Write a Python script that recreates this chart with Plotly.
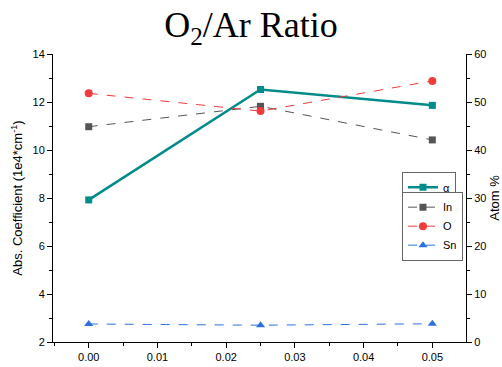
import plotly.graph_objects as go

ratio = [0.0, 0.025, 0.05]
alpha = [7.92, 12.52, 11.86]
in_pct = [44.85, 49.1, 42.1]
o_pct = [51.8, 48.1, 54.4]
sn_pct = [3.75, 3.5, 3.8]

fig = go.Figure()
fig.add_trace(go.Scatter(x=ratio, y=alpha, name="α", mode="lines+markers",
                         line=dict(color="#008B8B", width=2.5),
                         marker=dict(symbol="square", size=7, color="#008B8B"),
                         legend="legend", showlegend=True))
fig.add_trace(go.Scatter(x=ratio, y=in_pct, name="In", mode="lines+markers", yaxis="y2",
                         line=dict(color="#555555", width=1, dash="dash"),
                         marker=dict(symbol="square", size=7, color="#555555"),
                         legend="legend2", showlegend=True))
fig.add_trace(go.Scatter(x=ratio, y=o_pct, name="O", mode="lines+markers", yaxis="y2",
                         line=dict(color="#F03C3C", width=1, dash="dash"),
                         marker=dict(symbol="circle", size=8, color="#F03C3C"),
                         legend="legend2", showlegend=True))
fig.add_trace(go.Scatter(x=ratio, y=sn_pct, name="Sn", mode="lines+markers", yaxis="y2",
                         line=dict(color="#2A72E0", width=1, dash="dash"),
                         marker=dict(symbol="triangle-up", size=8, color="#2A72E0"),
                         legend="legend2", showlegend=True))

axfont = dict(family="Liberation Sans, Arial", size=11, color="black")
legfont = dict(family="Liberation Sans, Arial", size=11, color="black")
fig.update_layout(
    width=502, height=367,
    showlegend=True,
    margin=dict(l=53, r=36, t=54, b=25, autoexpand=False),
    paper_bgcolor="white", plot_bgcolor="white",
    title=dict(text="O<sub>2</sub>/Ar Ratio", x=0.5, xanchor="center", y=0.968, yanchor="top",
               font=dict(family="Liberation Serif, Times New Roman", size=36, color="black")),
    xaxis=dict(range=[-0.0052, 0.0549], tickvals=[0, 0.01, 0.02, 0.03, 0.04, 0.05],
               ticktext=["0.00", "0.01", "0.02", "0.03", "0.04", "0.05"], automargin=False,
               showline=True, linecolor="black", linewidth=1, ticks="outside", ticklen=5,
               tickcolor="black", showgrid=False, zeroline=False, tickfont=axfont,
               minor=dict(dtick=0.005, tick0=0, ticks="outside", ticklen=3, tickcolor="black")),
    yaxis=dict(range=[2, 14], dtick=2, showline=True, linecolor="black", linewidth=1,
               ticks="outside", ticklen=5, tickcolor="black", showgrid=False, zeroline=False,
               tickfont=axfont, automargin=False,
               title=dict(text="Abs. Coefficient (1e4*cm<sup>-1</sup>)", standoff=6,
                          font=dict(family="Liberation Sans, Arial", size=13, color="black")),
               minor=dict(dtick=1, ticks="outside", ticklen=3, tickcolor="black")),
    yaxis2=dict(range=[0, 60], dtick=10, overlaying="y", side="right", showline=True,
                linecolor="black", linewidth=1, ticks="outside", ticklen=5, tickcolor="black",
                showgrid=False, zeroline=False, tickfont=axfont, automargin=False,
                title=dict(text="Atom %", standoff=4,
                           font=dict(family="Liberation Sans, Arial", size=13, color="black")),
                minor=dict(dtick=5, ticks="outside", ticklen=3, tickcolor="black")),
    legend=dict(x=0.845, y=0.591, xanchor="left", yanchor="top", bgcolor="white",
                bordercolor="#666666", borderwidth=1, font=legfont,
                itemwidth=30, tracegroupgap=0),
    legend2=dict(x=0.845, y=0.522, xanchor="left", yanchor="top", bgcolor="white",
                 bordercolor="#666666", borderwidth=1, font=legfont,
                 itemwidth=30, tracegroupgap=0),
)
fig.write_html("out.html", config={"displayModeBar": False},
               post_script="document.body.style.margin='0px';")
